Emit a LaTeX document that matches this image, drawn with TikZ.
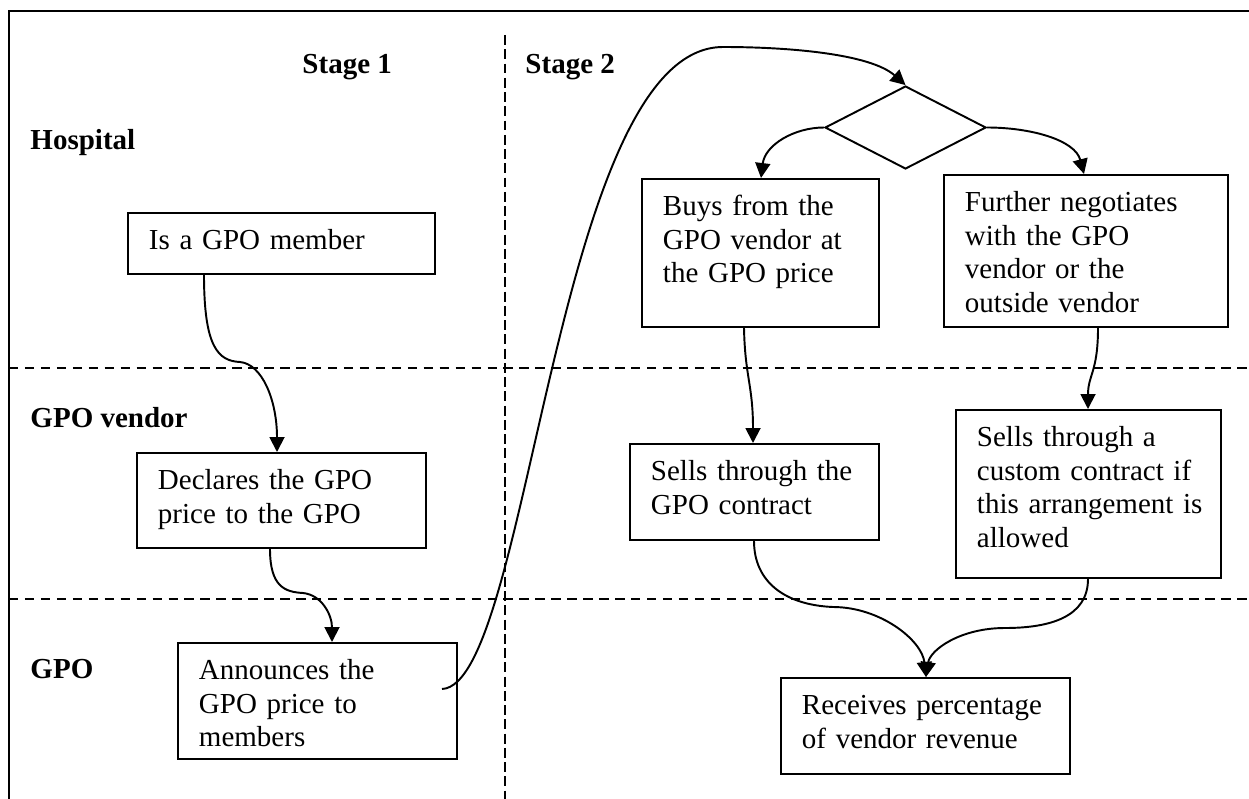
\documentclass[tikz,border=0pt]{standalone}
\usepackage{fontspec}
\setmainfont{Liberation Serif}
\usetikzlibrary{arrows.meta,shapes.geometric,calc}
\begin{document}
\begin{tikzpicture}[x=0.41379pt, y=-0.41379pt,
  every node/.style={font=\fontsize{12pt}{13.8pt}\selectfont},
  frame/.style={line width=1pt},
  lane/.style={line width=0.8pt, dash pattern=on 3.9pt off 2.7pt},
  stageline/.style={line width=0.5pt, dash pattern=on 4.1pt off 1.8pt},
  head/.style={font=\fontsize{12pt}{13.8pt}\selectfont\bfseries, anchor=base west, inner sep=0pt},
  card/.style={draw, line width=0.8pt, anchor=north west, inner xsep=8.69pt,
    inner ysep=0pt, align=left, text height=15.31pt},
  link/.style={line width=0.8pt, -{Triangle[length=6.2pt,width=6.2pt]}},
  choice/.style={draw, diamond, line width=0.8pt, inner sep=0pt,
    minimum width=66.62pt, minimum height=34.34pt}
]
\useasboundingbox (0,0) rectangle (1249,799);

% outer frame, swim lanes and stage divider
\draw[frame] (1249,11) -- (9,11) -- (9,799);
\draw[lane] (9,368) -- (1249,368);
\draw[lane] (9,599) -- (1249,599);
\draw[stageline] (505,35) -- (505,799);

% headings
\node[head] (st1) at (302,74) {Stage 1};
\node[head] (st2) at (525,74) {Stage 2};
\node[head] (hosp) at (30,150) {Hospital};
\node[head] (vend) at (30,427) {GPO vendor};
\node[head] (gpo) at (30,678) {GPO};

% stage 1
\node[card, text width=109.65pt, text depth=9.93pt] (m1) at (127,212) {Is a GPO member};
\node[card, text width=102.21pt, text depth=24.0pt] (m2) at (136,452) {Declares the GPO\\price to the GPO};
\node[card, text width=98.07pt, text depth=32.69pt] (m3) at (177,642) {Announces the\\GPO price to\\members};

% stage 2
\node[choice] (d) at (905.5,127.5) {};
\node[card, text width=80.69pt, text depth=45.93pt] (s1) at (641,178) {Buys from the\\GPO vendor at\\the GPO price};
\node[card, text width=100.14pt, text depth=47.59pt] (s2) at (943,174) {Further negotiates\\with the GPO\\vendor or the\\outside vendor};
\node[card, text width=85.65pt, text depth=24.41pt] (v1) at (629,443) {Sells through the\\GPO contract};
\node[card, text width=92.28pt, text depth=54.21pt] (v2) at (955,409) {Sells through a\\custom contract if\\\mbox{this arrangement is}\\allowed};
\node[card, text width=102.21pt, text depth=24.41pt] (g1) at (780,677) {Receives percentage\\of vendor revenue};

% connectors
\draw[link] ($(m1.south west)+(77,0)$) .. controls +(0,72) and +(-22,-1) .. (240,362)
  .. controls +(22,2) and +(0,-52) .. ($(m2.north west)+(141,0)$);
\draw[link] ($(m2.south west)+(134,0)$) .. controls +(0,38) and +(-18,-1) .. (303,593)
  .. controls +(19,2) and +(0,-27) .. ($(m3.north west)+(155,0)$);
\draw[link] ($(m3.north west)+(265,47)$) .. controls +(88,-4) and +(-168,0) .. (723,47)
  .. controls +(67,0) and +(-35,-31) .. (d.north);
\draw[link] (d.west) .. controls +(-30,0) and +(4,-33) .. ($(s1.north west)+(120,0)$);
\draw[link] (d.east) .. controls +(44,0) and +(-9,-34) .. ($(s2.north west)+(141,0)$);
\draw[link] ($(s1.south west)+(103,0)$) .. controls +(1,49) and +(0,-58) .. ($(v1.north west)+(124,0)$);
\draw[link] ($(s2.south west)+(155,0)$) .. controls +(0,44) and +(0,-34) .. ($(v2.north west)+(133,0)$);
\draw[link] ($(v1.south west)+(125,0)$) .. controls +(0,41) and +(-48,-2) .. (833,607)
  .. controls +(47,0) and +(-4,-37) .. ($(g1.north west)+(146,0)$);
\draw[link] ($(v2.south west)+(133,0)$) .. controls +(0,38) and +(45,0) .. (1005,628)
  .. controls +(-45,0) and +(4,-27) .. ($(g1.north west)+(146,0)$);
\end{tikzpicture}
\end{document}
